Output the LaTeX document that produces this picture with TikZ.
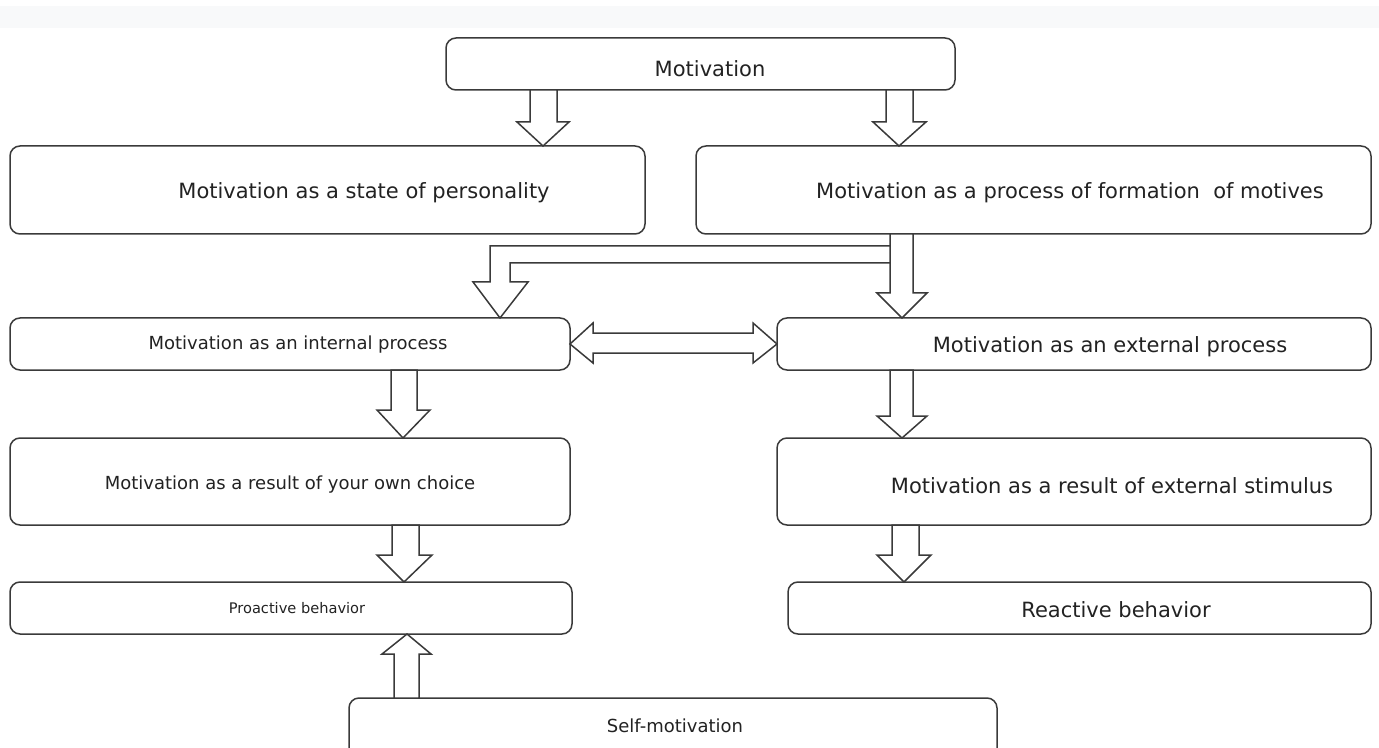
\documentclass[tikz,border=0pt]{standalone}
\usepackage{fontspec}
\setmainfont{DejaVu Sans}
\definecolor{linec}{HTML}{3A3A3A}
\definecolor{textc}{HTML}{222222}
\definecolor{barc}{HTML}{F8F9FA}
\begin{document}
\begin{tikzpicture}[x=0.5pt,y=-0.5pt,
  box/.style={draw=linec, line width=0.75pt, rounded corners=5pt, inner sep=0pt, outer sep=0pt},
  lbl/.style={font=\fontsize{10.5}{12}\selectfont, text=textc, inner sep=0pt},
  lbls/.style={font=\fontsize{9}{11}\selectfont, text=textc, inner sep=0pt},
  lblt/.style={font=\fontsize{7.3}{9}\selectfont, text=textc, inner sep=0pt},
  blk/.style={draw=linec, line width=0.75pt, fill=white, line join=miter}]
\useasboundingbox (0,0) rectangle (1379,748);
\clip (0,0) rectangle (1379,748);
\fill[barc] (0,6) rectangle (1379,28);

% boxes
\node[box, minimum width=254.5pt, minimum height=26pt] (mot) at (700.5,64) {};
\node[box, minimum width=317.5pt, minimum height=44pt] (state) at (327.5,190) {};
\node[box, minimum width=337.5pt, minimum height=44pt] (proc) at (1033.5,190) {};
\node[box, minimum width=280pt, minimum height=26pt] (int) at (290,344) {};
\node[box, minimum width=297pt, minimum height=26pt] (ext) at (1074,344) {};
\node[box, minimum width=280pt, minimum height=43.5pt] (own) at (290,481.5) {};
\node[box, minimum width=297pt, minimum height=43.5pt] (stim) at (1074,481.5) {};
\node[box, minimum width=281pt, minimum height=26pt] (pro) at (291,608) {};
\node[box, minimum width=291.5pt, minimum height=26pt] (rea) at (1079.5,608) {};
\node[box, minimum width=324pt, minimum height=46pt] (self) at (673,744) {};

% labels
\node[lbl] (tmot) at (710,69) {Motivation};
\node[lbl] (tstate) at (364,193) {Motivation as a state of personality};
\node[lbl] (tproc) at (1070,193) {Motivation as a process of formation\ \ of motives};
\node[lbls] (tint) at (298,345) {Motivation as an internal process};
\node[lbl] (text) at (1110,347) {Motivation as an external process};
\node[lbls] (town) at (290,485) {Motivation as a result of your own choice};
\node[lbl] (tstim) at (1112,486) {Motivation as a result of external stimulus};
\node[lblt] (tpro) at (297,608) {Proactive behavior};
\node[lbl] (trea) at (1116,610) {Reactive behavior};
\node[lbls] (tself) at (675,726) {Self-motivation};

% block arrows
\draw[blk] (530,0 |- mot.south) -- (530,122) -- (517,122) -- (543,0 |- state.north) -- (569,122) -- (557,122) -- (557,0 |- mot.south) -- cycle;
\draw[blk] (886,0 |- mot.south) -- (886,122) -- (873,122) -- (899,0 |- proc.north) -- (926,122) -- (913,122) -- (913,0 |- mot.south) -- cycle;
% L-shaped branch to internal process
\draw[blk] (890,246) -- (490,246) -- (490,282) -- (473,282) -- (500,0 |- int.north) -- (528,282) -- (510,282) -- (510,263) -- (890,263);
\draw[blk] (890,0 |- proc.south) -- (890,293) -- (877,293) -- (902,0 |- ext.north) -- (927,293) -- (913,293) -- (913,0 |- proc.south) -- cycle;
% double arrow
\draw[blk] (int.east) -- (593,323) -- (593,333) -- (753,333) -- (753,323) -- (ext.west) -- (753,363) -- (753,353) -- (593,353) -- (593,363) -- cycle;
\draw[blk] (391,0 |- int.south) -- (391,410) -- (377,410) -- (403,0 |- own.north) -- (430,410) -- (417,410) -- (417,0 |- int.south) -- cycle;
\draw[blk] (890,0 |- ext.south) -- (890,416) -- (877,416) -- (902,0 |- stim.north) -- (927,416) -- (913,416) -- (913,0 |- ext.south) -- cycle;
\draw[blk] (392,0 |- own.south) -- (392,555) -- (377,555) -- (404,0 |- pro.north) -- (432,555) -- (419,555) -- (419,0 |- own.south) -- cycle;
\draw[blk] (892,0 |- stim.south) -- (892,555) -- (877,555) -- (904,0 |- rea.north) -- (931,555) -- (919,555) -- (919,0 |- stim.south) -- cycle;
\draw[blk] (394,0 |- self.north) -- (394,654) -- (382,654) -- (407,0 |- pro.south) -- (431,654) -- (419,654) -- (419,0 |- self.north) -- cycle;
\end{tikzpicture}
\end{document}
